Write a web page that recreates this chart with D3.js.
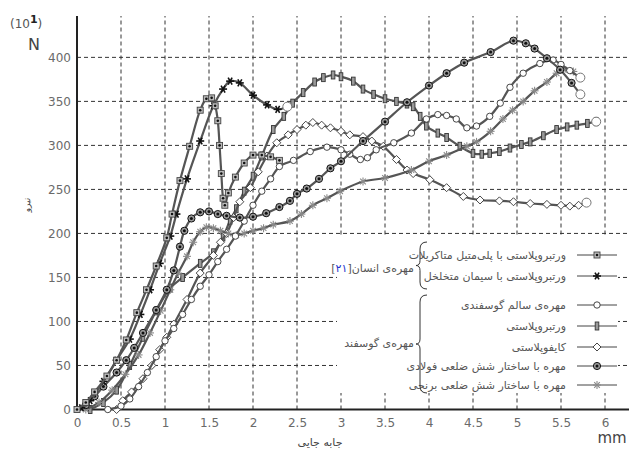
<!DOCTYPE html>
<html>
<head>
<meta charset="utf-8">
<script src="https://cdn.jsdelivr.net/npm/d3@7"></script>
<style>
  body { margin: 0; background: #fff; }
  svg { display: block; font-family: "DejaVu Sans", sans-serif; }
</style>
</head>
<body>
<svg id="chart"></svg>
<script>
// tick values
const xTicks = [0, 0.5, 1, 1.5, 2, 2.5, 3, 3.5, 4, 4.5, 5, 5.5, 6];
const yTicks = [0, 50, 100, 150, 200, 250, 300, 350, 400];

// series: [displacement mm, force x10 N]
const humanPmma = [[0,0],[0.1,8],[0.2,20],[0.34,38],[0.45,56],[0.56,79],[0.68,110],[0.79,136],[0.9,163],[1.02,195],[1.08,222],[1.17,260],[1.28,299],[1.4,340],[1.47,353],[1.53,354],[1.57,345],[1.6,328],[1.62,300],[1.64,268],[1.66,240],[1.68,232],[1.72,246],[1.8,264],[1.9,280],[2.0,289],[2.1,289],[2.2,287],[2.3,283]];
const humanPorous = [[0.05,2],[0.15,10],[0.3,32],[0.45,56],[0.6,80],[0.72,108],[0.83,136],[0.94,166],[1.06,197],[1.13,222],[1.25,262],[1.4,305],[1.55,345],[1.66,364],[1.74,373],[1.85,371],[2.0,357],[2.16,346],[2.28,341],[2.39,344]];
const sheepHealthy = [[0.35,0],[0.5,4],[0.6,12],[0.7,26],[0.8,42],[0.9,60],[1.0,78],[1.1,92],[1.2,108],[1.3,125],[1.4,140],[1.5,153],[1.6,168],[1.7,182],[1.8,197],[1.9,214],[2.0,232],[2.1,248],[2.2,262],[2.3,276],[2.46,283],[2.65,293],[2.84,298],[3.0,295],[3.1,290],[3.22,284],[3.3,286],[3.4,295],[3.6,303],[3.8,314],[3.97,330],[4.1,335],[4.2,334],[4.31,330],[4.43,320],[4.54,322],[4.69,333],[4.81,348],[4.92,366],[5.07,382],[5.26,393],[5.41,397],[5.5,392],[5.6,385],[5.72,377]];
const vertebroplasty = [[0.15,0],[0.3,8],[0.45,22],[0.6,50],[0.75,82],[0.9,112],[1.06,138],[1.2,150],[1.4,166],[1.55,178],[1.66,196],[1.74,215],[1.81,228],[1.9,248],[2.0,265],[2.1,288],[2.23,318],[2.35,333],[2.45,348],[2.57,360],[2.7,372],[2.8,377],[2.91,380],[3.0,378],[3.14,373],[3.25,364],[3.37,358],[3.5,353],[3.63,350],[3.75,347],[3.82,344],[3.9,333],[3.97,322],[4.1,314],[4.2,309],[4.35,299],[4.5,291],[4.6,290],[4.69,291],[4.8,293],[4.92,297],[5.05,301],[5.15,304],[5.3,311],[5.45,318],[5.57,321],[5.68,323],[5.8,325],[5.9,327]];
const kyphoplasty = [[0.45,0],[0.52,10],[0.62,20],[0.75,35],[0.85,50],[0.94,68],[1.02,82],[1.1,97],[1.25,125],[1.4,155],[1.55,175],[1.63,190],[1.7,200],[1.78,218],[1.85,236],[1.97,252],[2.06,270],[2.16,288],[2.27,303],[2.4,312],[2.5,318],[2.6,323],[2.68,326],[2.78,323],[2.88,320],[3.0,316],[3.1,312],[3.25,310],[3.35,305],[3.48,299],[3.63,284],[3.75,272],[3.82,268],[4.01,261],[4.2,252],[4.39,242],[4.58,238],[4.8,237],[4.96,236],[5.15,234],[5.34,233],[5.5,232],[5.6,231],[5.7,232],[5.79,235]];
const steelHex = [[0.1,5],[0.2,15],[0.3,26],[0.45,42],[0.56,56],[0.65,70],[0.75,87],[0.9,113],[1.02,136],[1.1,158],[1.17,185],[1.22,203],[1.3,217],[1.4,224],[1.5,225],[1.6,222],[1.7,220],[1.85,218],[2.0,219],[2.15,223],[2.3,230],[2.42,237],[2.5,245],[2.61,251],[2.75,262],[2.88,274],[3.0,282],[3.25,305],[3.5,327],[3.75,349],[4.0,368],[4.2,382],[4.4,394],[4.7,406],[4.96,419],[5.1,416],[5.2,410],[5.34,399],[5.49,386],[5.62,371],[5.72,358]];
const brassHex = [[0.1,0],[0.25,8],[0.4,22],[0.55,40],[0.7,62],[0.83,87],[0.95,112],[1.06,136],[1.15,155],[1.25,174],[1.32,190],[1.4,202],[1.47,207],[1.55,206],[1.63,203],[1.72,200],[1.81,198],[1.9,200],[2.0,203],[2.12,206],[2.23,210],[2.42,214],[2.55,222],[2.68,232],[2.84,240],[2.99,248],[3.25,259],[3.5,263],[3.8,272],[4.0,282],[4.2,289],[4.43,299],[4.54,304],[4.7,316],[4.84,330],[4.95,340],[5.07,350],[5.2,362],[5.34,372],[5.45,382],[5.53,386],[5.64,384]];

const legendLabels = [
  "ورتبروپلاستی با پلی‌متیل متاکریلات",
  "ورتبروپلاستی با سیمان متخلخل",
  "مهره‌ی سالم گوسفندی",
  "ورتبروپلاستی",
  "کایفوپلاستی",
  "مهره با ساختار شش ضلعی فولادی",
  "مهره با ساختار شش ضلعی برنجی"
];

const series = [
  { data: vertebroplasty, mark: "bar", end: true },
  { data: kyphoplasty, mark: "diamond", end: true },
  { data: brassHex, mark: "gstar", end: false },
  { data: sheepHealthy, mark: "circle", end: true },
  { data: steelHex, mark: "bull", end: true },
  { data: humanPorous, mark: "star", end: true },
  { data: humanPmma, mark: "sqdot", end: false }
];
const legendMarks = ["sqdot", "star", "circle", "bar", "diamond", "bull", "gstar"];

const W = 629, H = 454;
const svg = d3.select("#chart").attr("width", W).attr("height", H);

const x = d3.scaleLinear().domain([0, 6.2]).range([77, 622.6]);
const y = d3.scaleLinear().domain([0, 447]).range([409.5, 16]);

// grid
const grid = svg.append("g").attr("stroke", "#333").attr("stroke-width", 1).attr("stroke-dasharray", "4,3");
grid.selectAll(".vg").data(xTicks.slice(1)).join("line")
  .attr("x1", d => x(d)).attr("x2", d => x(d))
  .attr("y1", y(0)).attr("y2", 16);
grid.selectAll(".hg").data(yTicks.slice(1)).join("line")
  .attr("x1", 77).attr("x2", W)
  .attr("y1", d => y(d)).attr("y2", d => y(d));

// axes
const xAxis = d3.axisBottom(x).tickValues(xTicks).tickSize(0).tickPadding(9).tickFormat(d => d);
const yAxis = d3.axisLeft(y).tickValues(yTicks).tickSize(0).tickPadding(6).tickFormat(d => d);
const gx = svg.append("g").attr("transform", `translate(0,${y(0)})`).call(xAxis);
const gy = svg.append("g").attr("transform", "translate(77,0)").call(yAxis);
[gx, gy].forEach(g => {
  g.select(".domain").remove();
  g.selectAll("text").attr("fill", "#6a6a6a").attr("font-size", 12).attr("font-family", "DejaVu Sans, sans-serif");
});
svg.append("line").attr("x1", 77).attr("x2", 77).attr("y1", 16).attr("y2", y(0) + 1)
  .attr("stroke", "#222").attr("stroke-width", 2);
svg.append("line").attr("x1", 76).attr("x2", W).attr("y1", y(0)).attr("y2", y(0))
  .attr("stroke", "#222").attr("stroke-width", 2);

// markers
function drawMark(g, type, cx, cy) {
  const m = g.append("g").attr("transform", `translate(${cx},${cy})`);
  if (type === "sqdot") {
    m.append("rect").attr("x", -3).attr("y", -3).attr("width", 6).attr("height", 6)
      .attr("fill", "#bbb").attr("stroke", "#444").attr("stroke-width", 0.9);
    m.append("circle").attr("r", 1.3).attr("fill", "#111");
  } else if (type === "star" || type === "gstar") {
    const c = type === "star" ? "#111" : "#8a8a8a";
    const angles = type === "star" ? [0, 60, 120] : [0, 45, 90, 135];
    angles.forEach(a => {
      const r = a * Math.PI / 180, s = 4;
      m.append("line").attr("x1", -s * Math.cos(r)).attr("y1", -s * Math.sin(r))
        .attr("x2", s * Math.cos(r)).attr("y2", s * Math.sin(r))
        .attr("stroke", c).attr("stroke-width", type === "star" ? 1.6 : 1.1);
    });
  } else if (type === "circle") {
    m.append("circle").attr("r", 3.2).attr("fill", "#fff").attr("stroke", "#333").attr("stroke-width", 0.9);
  } else if (type === "bar") {
    m.append("rect").attr("x", -1.8).attr("y", -4).attr("width", 3.6).attr("height", 8)
      .attr("fill", "#999").attr("stroke", "#333").attr("stroke-width", 0.9);
  } else if (type === "diamond") {
    m.append("path").attr("d", "M0,-4L4,0L0,4L-4,0Z")
      .attr("fill", "#fff").attr("stroke", "#333").attr("stroke-width", 0.9);
  } else if (type === "bull") {
    m.append("circle").attr("r", 3.6).attr("fill", "#999").attr("stroke", "#111").attr("stroke-width", 1);
    m.append("circle").attr("r", 1.5).attr("fill", "#111");
  }
}

const line = d3.line().x(d => x(d[0])).y(d => y(d[1])).curve(d3.curveCatmullRom);
const plot = svg.append("g");
series.forEach(s => {
  plot.append("path").attr("d", line(s.data)).attr("fill", "none")
    .attr("stroke", "#555").attr("stroke-width", 2.2);
  const mg = plot.append("g");
  s.data.forEach(d => drawMark(mg, s.mark, x(d[0]), y(d[1])));
  if (s.end) {
    const last = s.data[s.data.length - 1];
    plot.append("circle").attr("cx", x(last[0])).attr("cy", y(last[1])).attr("r", 4.5)
      .attr("fill", "#fff").attr("stroke", "#777").attr("stroke-width", 1);
  }
});

// legend
const lg = svg.append("g");
lg.append("rect").attr("x", 337).attr("y", 236).attr("width", 281).attr("height", 157).attr("fill", "#fff");
const rowY = [255, 276, 305, 326, 347, 366, 385];
legendLabels.forEach((t, i) => {
  lg.append("text").attr("x", 566).attr("y", rowY[i] + 4).attr("direction", "rtl")
    .attr("text-anchor", "start").attr("font-size", 11).attr("fill", "#555").text(t);
  lg.append("line").attr("x1", 577).attr("x2", 617).attr("y1", rowY[i]).attr("y2", rowY[i])
    .attr("stroke", "#444").attr("stroke-width", 1);
  drawMark(lg, legendMarks[i], 597, rowY[i]);
});
function brace(y0, y1) {
  const m = (y0 + y1) / 2, xr = 427, xl = 420;
  return `M${xr},${y0} Q${xl},${y0} ${xl},${y0 + 7} L${xl},${m - 5} Q${xl},${m} ${xl - 4},${m} Q${xl},${m} ${xl},${m + 5} L${xl},${y1 - 7} Q${xl},${y1} ${xr},${y1}`;
}
lg.append("path").attr("d", brace(242, 289)).attr("fill", "none").attr("stroke", "#333").attr("stroke-width", 1);
lg.append("path").attr("d", brace(295, 393)).attr("fill", "none").attr("stroke", "#333").attr("stroke-width", 1);
const g1 = lg.append("text").attr("x", 414).attr("y", 272).attr("direction", "rtl")
  .attr("text-anchor", "start").attr("font-size", 11).attr("fill", "#555");
g1.append("tspan").text("مهره‌ی انسان[");
g1.append("tspan").attr("fill", "#2233cc").text("۲۱");
g1.append("tspan").text("]");
lg.append("text").attr("x", 414).attr("y", 347).attr("direction", "rtl")
  .attr("text-anchor", "start").attr("font-size", 11).attr("fill", "#555").text("مهره‌ی گوسفند");

// titles
const unitY = svg.append("text").attr("x", 10).attr("y", 28).attr("font-size", 12).attr("fill", "#555");
unitY.append("tspan").text("(10");
unitY.append("tspan").attr("dy", -5).attr("font-size", 11).attr("font-weight", "bold").attr("fill", "#222").text("1");
unitY.append("tspan").attr("dy", 5).text(")");
svg.append("text").attr("x", 34).attr("y", 50).attr("text-anchor", "middle")
  .attr("font-size", 16).attr("fill", "#444").text("N");
svg.append("text").attr("transform", "translate(30,205) rotate(-90)").attr("text-anchor", "middle")
  .attr("font-size", 9).attr("fill", "#444").text("نیرو");
svg.append("text").attr("x", 320).attr("y", 446).attr("text-anchor", "middle")
  .attr("font-size", 11).attr("fill", "#444").text("جابه جایی");
svg.append("text").attr("x", 612).attr("y", 443).attr("text-anchor", "middle")
  .attr("font-size", 15).attr("fill", "#444").text("mm");
</script>
</body>
</html>
